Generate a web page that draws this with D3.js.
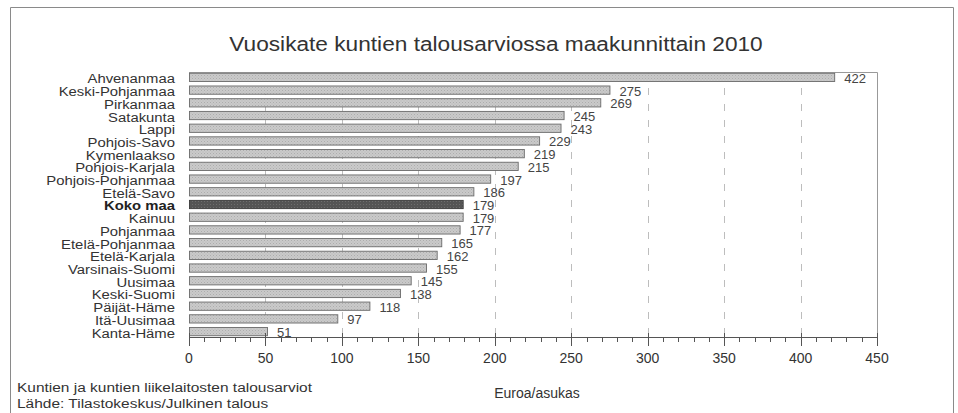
<!DOCTYPE html>
<html><head><meta charset="utf-8">
<script src="https://cdn.jsdelivr.net/npm/d3@7"></script>
<style>
html,body{margin:0;padding:0;background:#fff;}
svg{display:block;font-family:"Liberation Sans",Arial,Helvetica,sans-serif;}
</style></head>
<body>
<svg id="chart" width="958" height="413"></svg>
<script>
const categories = ["Ahvenanmaa","Keski-Pohjanmaa","Pirkanmaa","Satakunta","Lappi","Pohjois-Savo","Kymenlaakso","Pohjois-Karjala","Pohjois-Pohjanmaa","Etelä-Savo","Koko maa","Kainuu","Pohjanmaa","Etelä-Pohjanmaa","Etelä-Karjala","Varsinais-Suomi","Uusimaa","Keski-Suomi","Päijät-Häme","Itä-Uusimaa","Kanta-Häme"];
const values = [422,275,269,245,243,229,219,215,197,186,179,179,177,165,162,155,145,138,118,97,51];
const highlight = "Koko maa";
const majorTicks = [0,50,100,150,200,250,300,350,400,450];
const minorTicks = d3.range(0,451,10);
const title = "Vuosikate kuntien talousarviossa maakunnittain 2010";
const xTitle = "Euroa/asukas";
const notes = ["Kuntien ja kuntien liikelaitosten talousarviot","Lähde: Tilastokeskus/Julkinen talous"];

const svg = d3.select("#chart");
const defs = svg.append("defs");
const pat = defs.append("pattern").attr("id","dots").attr("width",3).attr("height",3).attr("patternUnits","userSpaceOnUse");
pat.append("rect").attr("width",3).attr("height",3).attr("fill","#cacaca");
pat.append("rect").attr("x",0).attr("y",0).attr("width",1).attr("height",1).attr("fill","#adadad");
pat.append("rect").attr("x",1.5).attr("y",1.5).attr("width",1).attr("height",1).attr("fill","#b8b8b8");
const pat2 = defs.append("pattern").attr("id","dotsDark").attr("width",3).attr("height",3).attr("patternUnits","userSpaceOnUse");
pat2.append("rect").attr("width",3).attr("height",3).attr("fill","#555");
pat2.append("rect").attr("x",0).attr("y",0).attr("width",1).attr("height",1).attr("fill","#6e6e6e");

// outer frame
svg.append("path").attr("d","M10.5,413 V7.5 H953.5 V413").attr("fill","none").attr("stroke","#8a8a8a").attr("stroke-width",1);

const pL = 189, pR = 877, pT = 72, pB = 337;
const x = d3.scaleLinear().domain([0,450]).range([pL,pR]);
const y = d3.scaleBand().domain(categories).range([pT,pB]).paddingInner(0.35).paddingOuter(0.1);

function stretched(sel, sx, anchorX){
  sel.attr("transform", `translate(${anchorX},0) scale(${sx},1) translate(${-anchorX},0)`);
}

// title
svg.append("text").attr("x",496).attr("y",51).attr("text-anchor","middle")
  .attr("font-size",21).attr("fill","#333").text(title)
  .call(stretched,1.08,496);

// gridlines
svg.append("g").selectAll("line").data(majorTicks.filter(d=>d>0&&d<450)).join("line")
  .attr("x1",d=>Math.round(x(d))+0.5).attr("x2",d=>Math.round(x(d))+0.5)
  .attr("y1",pT).attr("y2",pB)
  .attr("stroke","#bdbdbd").attr("stroke-dasharray","7,9").attr("stroke-width",1);

// plot frame top & right
svg.append("path").attr("d",`M${pL},${pT+0.5} H${pR+0.5} V${pB}`).attr("fill","none").attr("stroke","#999").attr("stroke-width",1);

// bars
svg.append("g").selectAll("rect").data(categories).join("rect")
  .attr("x",x(0)+0.5).attr("y",d=>y(d))
  .attr("width",(d,i)=>x(values[i])-x(0))
  .attr("height",y.bandwidth())
  .attr("fill",d=>d===highlight?"url(#dotsDark)":"url(#dots)")
  .attr("stroke",d=>d===highlight?"#3a3a3a":"#6a6a6a").attr("stroke-width",0.9);

// value labels
svg.append("g").selectAll("text").data(categories).join("text")
  .attr("x",(d,i)=>x(values[i])+10).attr("y",d=>y(d)+y.bandwidth()/2+5.5)
  .attr("font-size",13).attr("fill","#444").text((d,i)=>values[i]);

// category labels
svg.append("g").call(stretched,1.1,175)
  .selectAll("text").data(categories).join("text")
  .attr("x",175).attr("y",d=>y(d)+y.bandwidth()/2+6)
  .attr("text-anchor","end").attr("font-size",13.5)
  .attr("font-weight",d=>d===highlight?"bold":"normal")
  .attr("fill",d=>d===highlight?"#222":"#333").text(d=>d);

// x axis
const gx = svg.append("g").attr("transform",`translate(0,${pB})`);
gx.append("line").attr("x1",pL).attr("x2",pR).attr("y1",0.5).attr("y2",0.5).attr("stroke","#555");
gx.selectAll(".minor").data(minorTicks.filter(d=>d%50!==0)).join("line")
  .attr("x1",d=>Math.round(x(d))+0.5).attr("x2",d=>Math.round(x(d))+0.5).attr("y1",0).attr("y2",5).attr("stroke","#555");
gx.selectAll(".major").data(majorTicks).join("line")
  .attr("x1",d=>Math.round(x(d))+0.5).attr("x2",d=>Math.round(x(d))+0.5).attr("y1",-4).attr("y2",9).attr("stroke","#555");
gx.selectAll("text").data(majorTicks).join("text")
  .attr("x",d=>x(d)).attr("y",26).attr("text-anchor","middle").attr("font-size",14).attr("fill","#333").text(d=>d);

svg.append("text").attr("x",537).attr("y",398).attr("text-anchor","middle").attr("font-size",14).attr("fill","#333").text(xTitle);
svg.append("g").call(stretched,1.13,17)
  .selectAll("text").data(notes).join("text")
  .attr("x",17).attr("y",(d,i)=>392+i*16).attr("font-size",13.7).attr("fill","#333").text(d=>d);
</script>
</body></html>
